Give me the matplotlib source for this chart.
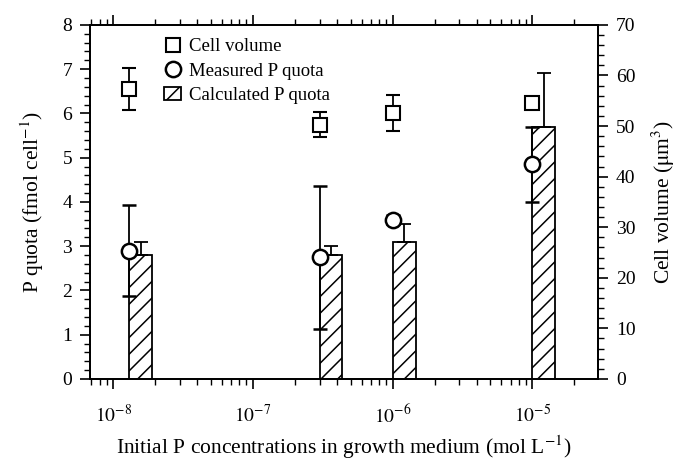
import matplotlib
matplotlib.use("Agg")
import matplotlib.pyplot as plt
import numpy as np
from matplotlib.patches import Patch
from matplotlib.lines import Line2D
from matplotlib.ticker import LogLocator, MultipleLocator, FixedLocator, NullFormatter

# data
conc = [1.3e-8, 3e-7, 1e-6, 1e-5]             # initial P (mol/L)
cell_volume = [57.3, 50.3, 52.6, 54.6]         # um^3
cell_volume_err = [4.2, 2.5, 3.6, 1.0]
measured_p = [2.9, 2.75, 3.6, 4.85]            # fmol/cell
measured_p_err = [1.03, 1.62, 0.1, 0.85]
calc_p = [2.8, 2.8, 3.1, 5.7]
calc_p_err = [0.3, 0.2, 0.4, 1.22]

plt.rcParams["font.family"] = ["Liberation Serif", "DejaVu Serif"]
plt.rcParams["mathtext.fontset"] = "stix"
plt.rcParams["axes.linewidth"] = 1.3
plt.rcParams["hatch.linewidth"] = 1.1

fig = plt.figure(figsize=(6.83, 4.61), dpi=100)
ax = fig.add_axes([0.132, 0.178, 0.7435, 0.768])
ax2 = ax.twinx()
ax.set_zorder(ax2.get_zorder() + 1)
ax.patch.set_visible(False)

x = np.array(conc)
bar_w = x * 0.46
ax.bar(x, calc_p, width=bar_w, align="edge", facecolor="white",
       edgecolor="black", hatch="//", linewidth=1.3, zorder=2)
bar_mid = x * np.sqrt(1.46)
ax.errorbar(bar_mid, calc_p, yerr=[np.zeros(4), calc_p_err], fmt="none",
            ecolor="black", elinewidth=1.3, capsize=5, capthick=1.3, zorder=3)
ax.errorbar(x, measured_p, yerr=measured_p_err, fmt="o", ms=11,
            mfc="white", mec="black", mew=1.8, ecolor="black",
            elinewidth=1.3, capsize=5, capthick=1.3, zorder=4)

ax.errorbar(x, [v / 70 * 8 for v in cell_volume],
            yerr=[e / 70 * 8 for e in cell_volume_err], fmt="s", ms=10,
            mfc="white", mec="black", mew=1.5, ecolor="black",
            elinewidth=1.3, capsize=5, capthick=1.3, zorder=4)

ax.set_xscale("log")
ax.set_xlim(6.85e-9, 2.95e-5)
ax.set_ylim(0, 8)
ax2.set_ylim(0, 70)

ax.xaxis.set_major_locator(FixedLocator([1e-8, 1e-7, 1e-6, 1e-5]))
ax.xaxis.set_minor_locator(LogLocator(base=10, subs=np.arange(2, 10), numticks=20))
ax.xaxis.set_minor_formatter(NullFormatter())
ax.set_xticklabels([r"$10^{-8}$", r"$10^{-7}$", r"$10^{-6}$", r"$10^{-5}$"])
ax.yaxis.set_major_locator(MultipleLocator(1))
ax.yaxis.set_minor_locator(MultipleLocator(0.2))
ax2.yaxis.set_major_locator(MultipleLocator(10))
ax2.yaxis.set_minor_locator(MultipleLocator(2))

ax.tick_params(axis="both", which="major", direction="out", length=7, width=1.2,
               labelsize=14, top=True, pad=6)
ax.tick_params(axis="both", which="minor", direction="out", length=4, width=1,
               top=True)
ax.tick_params(axis="x", which="major", pad=11)
ax2.tick_params(axis="y", which="major", direction="out", length=7, width=1.2,
                labelsize=14, pad=6)
ax2.tick_params(axis="y", which="minor", direction="out", length=4, width=1)

ax.set_xlabel(r"Initial P concentrations in growth medium (mol L$^{-1}$)",
              fontsize=15.5, labelpad=5)
ax.set_ylabel(r"P quota (fmol cell$^{-1}$)", fontsize=15.5, labelpad=12)
ax2.set_ylabel(r"Cell volume ($\mathrm{\mu}$m$^{3}$)", fontsize=15.5, labelpad=10)

handles = [
    Line2D([], [], ls="none", marker="s", ms=10, mfc="white", mec="black", mew=1.5),
    Line2D([], [], ls="none", marker="o", ms=11, mfc="white", mec="black", mew=1.8),
    Patch(facecolor="white", edgecolor="black", hatch="//", linewidth=1.3),
]
ax.legend(handles, ["Cell volume", "Measured P quota", "Calculated P quota"],
          loc="upper left", bbox_to_anchor=(0.12, 1.0), frameon=False,
          fontsize=13.5, handlelength=0.9, handletextpad=0.4, labelspacing=0.4,
          borderaxespad=0.3)

fig.savefig("out.png", dpi=100)
